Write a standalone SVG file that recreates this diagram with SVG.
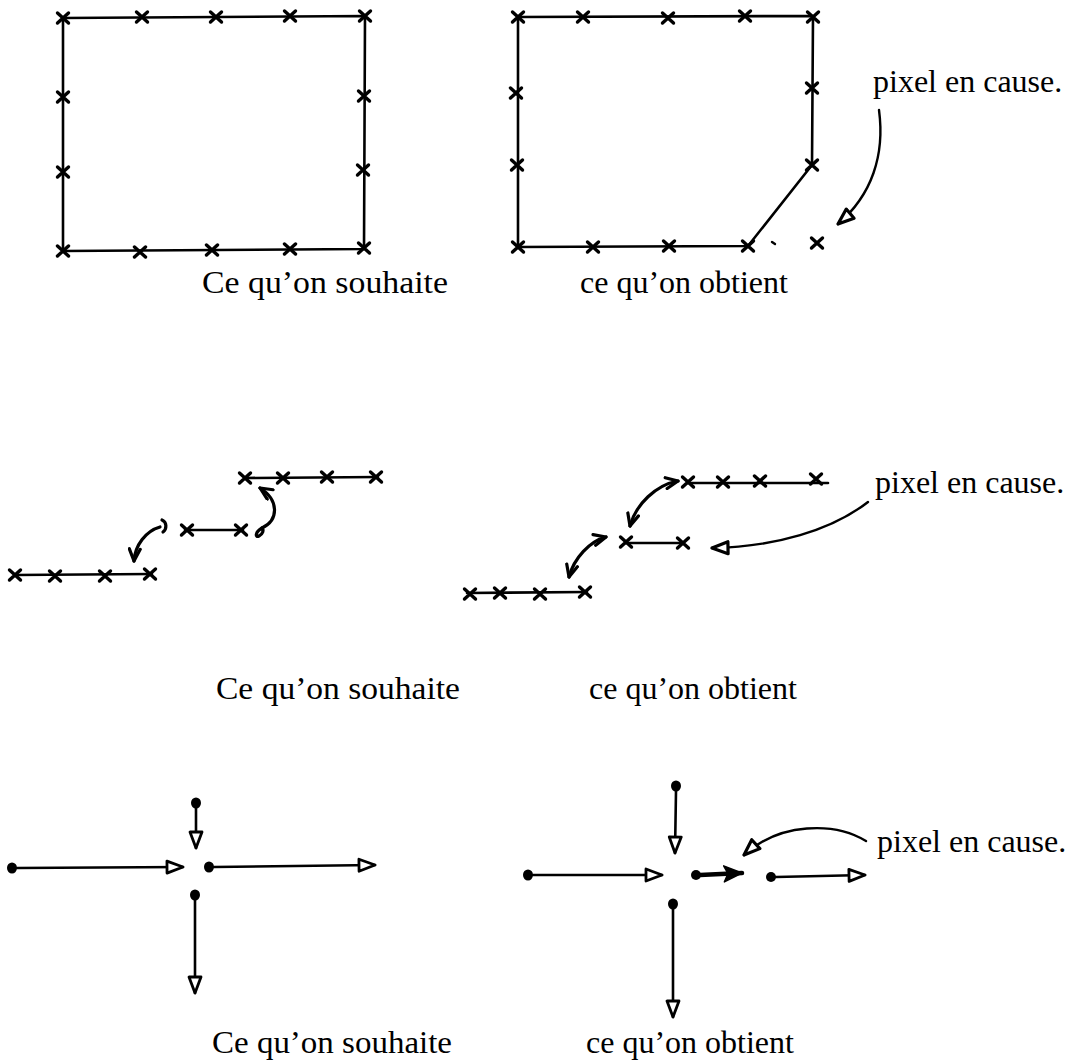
<svg xmlns="http://www.w3.org/2000/svg" xmlns:xlink="http://www.w3.org/1999/xlink" width="1077" height="1061" viewBox="0 0 1077 1061">
<style>
.ln{fill:none;stroke:#000;stroke-width:2.6;stroke-linecap:round;stroke-linejoin:round}
.bold{fill:none;stroke:#000;stroke-width:4.5;stroke-linecap:round}
.cv{fill:none;stroke:#000;stroke-width:3.2;stroke-linecap:round}
.cvt{fill:none;stroke:#000;stroke-width:2.4;stroke-linecap:round}
.x{fill:none;stroke:#000;stroke-width:3.4;stroke-linecap:round}
.dot{fill:#000}
.t{font-family:"Liberation Serif","Times New Roman",serif;font-size:32px;fill:#000}
</style>
<defs>
<g id="cr"><path class="x" d="M-5.5,-5 L5.5,5 M-5.5,5 L5.5,-5"/></g>
<marker id="open" markerUnits="userSpaceOnUse" viewBox="0 0 20 16" refX="18" refY="8" markerWidth="20" markerHeight="16" orient="auto">
<path d="M2,2 L18,8 L2,14 Z" fill="#fff" stroke="#000" stroke-width="2.8" stroke-linejoin="round"/>
</marker>
<marker id="solid" markerUnits="userSpaceOnUse" viewBox="0 0 20 18" refX="19" refY="9" markerWidth="20" markerHeight="18" orient="auto">
<path d="M1,1 L19,9 L1,17 L5,9 Z" fill="#000" stroke="#000" stroke-width="1.5" stroke-linejoin="round"/>
</marker>
<marker id="hd" markerUnits="userSpaceOnUse" viewBox="0 0 16 14" refX="14" refY="7" markerWidth="16" markerHeight="14" orient="auto-start-reverse">
<path d="M2,1.5 L14,7 L2,12.5" fill="none" stroke="#000" stroke-width="3.2" stroke-linecap="round" stroke-linejoin="round"/>
</marker>
<marker id="hf" markerUnits="userSpaceOnUse" viewBox="0 0 20 16" refX="18" refY="8" markerWidth="20" markerHeight="16" orient="auto">
<path d="M2,2 L18,8 L2,14 Z" fill="#fff" stroke="#000" stroke-width="3.2" stroke-linejoin="round"/>
</marker>
</defs>

<!-- Panel 1: rectangles -->
<g id="rect-souhaite">
<path class="ln" d="M63,18 L365,16 L364,249 L63,251 Z"/>
<use href="#cr" x="63" y="18"/><use href="#cr" x="142" y="17"/><use href="#cr" x="216" y="17"/><use href="#cr" x="290" y="16"/><use href="#cr" x="365" y="16"/>
<use href="#cr" x="63" y="97"/><use href="#cr" x="63" y="172"/>
<use href="#cr" x="364" y="96"/><use href="#cr" x="363" y="170"/>
<use href="#cr" x="63" y="251"/><use href="#cr" x="140" y="252"/><use href="#cr" x="212" y="250"/><use href="#cr" x="290" y="249"/><use href="#cr" x="364" y="248"/>
</g>
<g id="rect-obtient">
<path class="ln" d="M518,17 L813,16 L812,165 L748,246 L518,247 Z"/>
<use href="#cr" x="518" y="17"/><use href="#cr" x="583" y="17"/><use href="#cr" x="668" y="18"/><use href="#cr" x="745" y="16"/><use href="#cr" x="813" y="17"/>
<use href="#cr" x="516" y="93"/><use href="#cr" x="517" y="165"/>
<use href="#cr" x="812" y="88"/><use href="#cr" x="812" y="165"/>
<use href="#cr" x="518" y="247"/><use href="#cr" x="593" y="247"/><use href="#cr" x="669" y="246"/><use href="#cr" x="748" y="246"/>
<path class="cvt" d="M772,242 L775,244"/>
<use href="#cr" x="817" y="243"/>
</g>
<g id="label-1">
<text class="t" x="202" y="293" textLength="246" lengthAdjust="spacingAndGlyphs">Ce qu’on souhaite</text>
<text class="t" x="580" y="293">ce qu’on obtient</text>
<text class="t" x="873" y="92">pixel en cause.</text>
</g>

<!-- Panel 2: segments -->
<g id="seg-souhaite">
<path class="ln" d="M245,478 L378,477"/>
<use href="#cr" x="245" y="478"/><use href="#cr" x="283" y="478"/><use href="#cr" x="327" y="477"/><use href="#cr" x="376" y="477"/>
<path class="ln" d="M185,530 L243,530"/>
<use href="#cr" x="187" y="530"/><use href="#cr" x="241" y="530"/>
<path class="ln" d="M15,575 L152,574"/>
<use href="#cr" x="15" y="575"/><use href="#cr" x="55" y="576"/><use href="#cr" x="105" y="576"/><use href="#cr" x="150" y="574"/>
</g>
<g id="seg-obtient">
<path class="ln" d="M687,483 L828,483"/>
<use href="#cr" x="688" y="482"/><use href="#cr" x="723" y="482"/><use href="#cr" x="760" y="481"/><use href="#cr" x="816" y="479"/>
<path class="ln" d="M625,543 L683,543"/>
<use href="#cr" x="626" y="542"/><use href="#cr" x="683" y="543"/>
<path class="ln" d="M467,593 L587,592"/>
<use href="#cr" x="470" y="594"/><use href="#cr" x="500" y="593"/><use href="#cr" x="540" y="594"/><use href="#cr" x="585" y="592"/>
</g>
<g id="label-2">
<text class="t" x="875" y="493">pixel en cause.</text>
<text class="t" x="216" y="699" textLength="244" lengthAdjust="spacingAndGlyphs">Ce qu’on souhaite</text>
<text class="t" x="589" y="699">ce qu’on obtient</text>
</g>

<!-- Panel 3: arrows -->
<g id="cross-souhaite">
<ellipse class="dot" cx="196" cy="803" rx="5" ry="5.5"/>
<ellipse class="dot" cx="12" cy="868" rx="5" ry="5.5"/>
<ellipse class="dot" cx="209" cy="867" rx="5" ry="5.5"/>
<ellipse class="dot" cx="195" cy="895" rx="5" ry="5.5"/>
</g>
<g id="cross-obtient">
<ellipse class="dot" cx="676" cy="786" rx="5" ry="5.5"/>
<ellipse class="dot" cx="528" cy="875" rx="5" ry="5.5"/>
<ellipse class="dot" cx="696" cy="875" rx="5" ry="5"/>
<ellipse class="dot" cx="771" cy="877" rx="5" ry="5"/>
<ellipse class="dot" cx="673" cy="904" rx="5" ry="5.5"/>
</g>
<g id="label-3">
<text class="t" x="877" y="852">pixel en cause.</text>
<text class="t" x="212" y="1053" textLength="240" lengthAdjust="spacingAndGlyphs">Ce qu’on souhaite</text>
<text class="t" x="586" y="1053">ce qu’on obtient</text>
</g>

<g id="connectors">
<!-- panel 1 -->
<path class="cvt" d="M879,110 C885,155 872,195 838,224" marker-end="url(#hf)"/>
<!-- panel 2 left -->
<path class="cv" d="M262,528 C279,520 279,500 260,488" marker-end="url(#hd)"/>
<path class="cv" d="M262,528 C255,532 255,538 259,536 C263,534 264,530 262,528"/>
<path class="cv" d="M160,527 C146,531 135,545 134,561" marker-end="url(#hd)"/>
<path class="cv" d="M162,520 C167,522 167,529 163,532"/>
<!-- panel 2 right -->
<path class="cv" d="M678,481 C656,485 636,504 630,526" marker-start="url(#hd)" marker-end="url(#hd)"/>
<path class="cv" d="M606,537 C590,541 574,558 569,577" marker-start="url(#hd)" marker-end="url(#hd)"/>
<path class="cvt" d="M868,502 C832,530 775,547 712,548" marker-end="url(#hf)"/>
<!-- panel 3 left -->
<path class="ln" d="M196,808 L196,848" marker-end="url(#open)"/>
<path class="ln" d="M17,868 L183,867" marker-end="url(#open)"/>
<path class="ln" d="M214,867 L375,865" marker-end="url(#open)"/>
<path class="ln" d="M195,900 L195,993" marker-end="url(#open)"/>
<!-- panel 3 right -->
<path class="ln" d="M676,791 L675,853" marker-end="url(#open)"/>
<path class="ln" d="M533,875 L662,875" marker-end="url(#open)"/>
<path class="bold" d="M700,875 L742,873" marker-end="url(#solid)"/>
<path class="ln" d="M776,877 L865,875" marker-end="url(#open)"/>
<path class="ln" d="M673,909 L673,1017" marker-end="url(#open)"/>
<path class="cvt" d="M866,841 C835,822 780,822 744,855" marker-end="url(#hf)"/>
</g>
</svg>
